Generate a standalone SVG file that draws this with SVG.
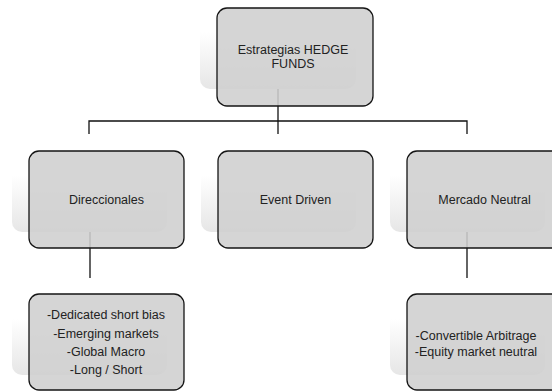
<svg xmlns="http://www.w3.org/2000/svg" width="552" height="391" viewBox="0 0 552 391">
<defs>
<linearGradient id="sh" x1="0" y1="0" x2="0" y2="1">
<stop offset="0" stop-color="#ffffff"/>
<stop offset="0.42" stop-color="#ffffff"/>
<stop offset="1" stop-color="#e6e6e6"/>
</linearGradient>
<style>
.shadow{fill:url(#sh);}
.box{fill:#cfcfcf;fill-opacity:0.88;stroke:#151515;stroke-width:1.3;}
.conn{fill:none;stroke:#111;stroke-width:1.3;}
.t{font-family:"Liberation Sans",Arial,sans-serif;font-size:12.5px;fill:#222;text-anchor:middle;}
</style>
</defs>
<g id="shadows">
<rect class="shadow" x="200" y="-9" width="156" height="98" rx="10"/>
<rect class="shadow" x="12" y="134" width="155" height="98" rx="10"/>
<rect class="shadow" x="201" y="134" width="155" height="98" rx="10"/>
<rect class="shadow" x="390" y="134" width="155" height="98" rx="10"/>
<rect class="shadow" x="12" y="278" width="155" height="97" rx="10"/>
<rect class="shadow" x="390" y="278" width="155" height="97" rx="10"/>
</g>
<g id="connectors">
<path class="conn" d="M278,89 V121"/>
<path class="conn" d="M89,134 V121 H467 V134"/>
<path class="conn" d="M278,121 V134"/>
<path class="conn" d="M90,232 V278"/>
<path class="conn" d="M467,232 V278"/>
</g>
<g id="root">
<rect class="box" x="217" y="8" width="156" height="98" rx="10"/>
<text class="t" x="293" y="54">Estrategias HEDGE</text>
<text class="t" x="293" y="68">FUNDS</text>
</g>
<g id="direccionales">
<rect class="box" x="29" y="151" width="155" height="97" rx="10"/>
<text class="t" x="106.5" y="204">Direccionales</text>
</g>
<g id="event-driven">
<rect class="box" x="218" y="151" width="155" height="97" rx="10"/>
<text class="t" x="295.5" y="204">Event Driven</text>
</g>
<g id="mercado-neutral">
<rect class="box" x="407" y="151" width="155" height="97" rx="10"/>
<text class="t" x="484.5" y="204">Mercado Neutral</text>
</g>
<g id="direccionales-detail">
<rect class="box" x="29" y="294" width="155" height="96" rx="10"/>
<text class="t" x="106" y="319">-Dedicated short bias</text>
<text class="t" x="106" y="337.5">-Emerging markets</text>
<text class="t" x="106" y="356">-Global Macro</text>
<text class="t" x="106" y="374">-Long / Short</text>
</g>
<g id="mercado-detail">
<rect class="box" x="407" y="294" width="155" height="96" rx="10"/>
<text class="t" x="476" y="340">-Convertible Arbitrage</text>
<text class="t" x="476" y="356">-Equity market neutral</text>
</g>
</svg>
